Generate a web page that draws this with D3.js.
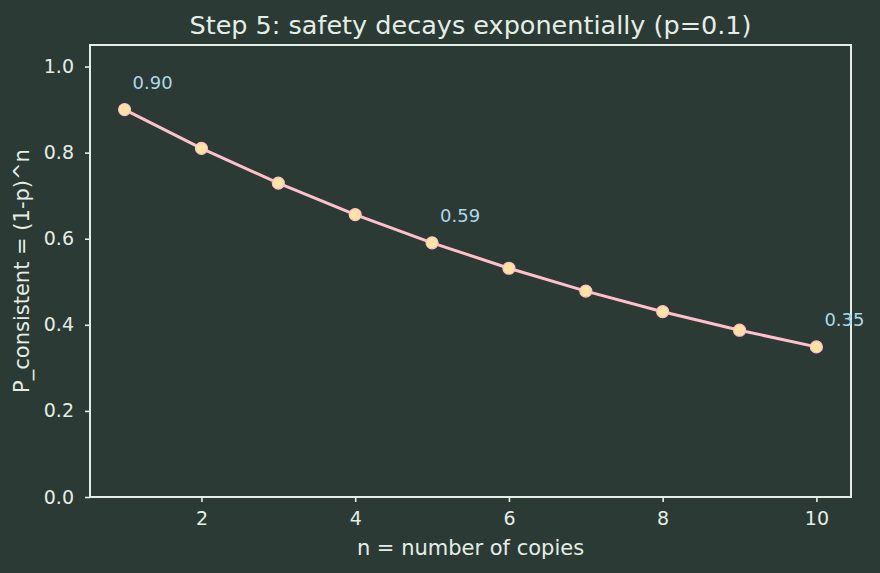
<!DOCTYPE html>
<html>
<head>
<meta charset="utf-8">
<script src="https://cdn.jsdelivr.net/npm/d3@7"></script>
<style>
  body { margin: 0; background: #2b3a34; }
  text { font-family: "DejaVu Sans", sans-serif; }
</style>
</head>
<body>
<script>
var svgWidth = 880;
var svgHeight = 573;

// data
var copies = [1, 2, 3, 4, 5, 6, 7, 8, 9, 10];
var pConsistent = [0.9, 0.81, 0.729, 0.6561, 0.59049, 0.531441, 0.4782969, 0.43046721, 0.387420489, 0.3486784401];
var labelled = [1, 5, 10];
var xTicks = [2, 4, 6, 8, 10];
var yTicks = [0.0, 0.2, 0.4, 0.6, 0.8, 1.0];

var margin = {left: 90, right: 29, top: 45, bottom: 76};
var fg = "#e4eee6";

var svg = d3.select("body").append("svg").attr("width", svgWidth).attr("height", svgHeight);
svg.append("rect").attr("width", svgWidth).attr("height", svgHeight).attr("fill", "#2b3a34");

var x = d3.scaleLinear().domain([0.55, 10.45]).range([margin.left, svgWidth - margin.right]);
var y = d3.scaleLinear().domain([0, 1.05]).range([svgHeight - margin.bottom, margin.top]);

// axes
var xAxis = svg.append("g")
    .attr("transform", "translate(0," + (svgHeight - margin.bottom) + ")")
    .call(d3.axisBottom(x).tickValues(xTicks).tickFormat(d3.format("d")).tickSize(5).tickPadding(10));
var yAxis = svg.append("g")
    .attr("transform", "translate(" + margin.left + ",0)")
    .call(d3.axisLeft(y).tickValues(yTicks).tickFormat(d3.format(".1f")).tickSize(5).tickPadding(11));

[xAxis, yAxis].forEach(function(a) {
    a.select(".domain").remove();
    a.attr("font-size", null).attr("font-family", null);
    a.selectAll("line").attr("stroke", fg).attr("stroke-width", 1.6);
    a.selectAll("text").attr("fill", fg).style("font-size", "19px").style("font-family", "DejaVu Sans");
});

// frame
svg.append("rect")
    .attr("x", margin.left).attr("y", margin.top)
    .attr("width", svgWidth - margin.left - margin.right)
    .attr("height", svgHeight - margin.top - margin.bottom)
    .attr("fill", "none").attr("stroke", fg).attr("stroke-width", 2);

// line
var line = d3.line()
    .x(function(d, i) { return x(copies[i]); })
    .y(function(d) { return y(d); });

svg.append("path")
    .datum(pConsistent)
    .attr("d", line)
    .attr("fill", "none")
    .attr("stroke", "#ffc0cb")
    .attr("stroke-width", 3);

svg.selectAll("circle.pt").data(pConsistent).join("circle")
    .attr("class", "pt")
    .attr("cx", function(d, i) { return x(copies[i]); })
    .attr("cy", function(d) { return y(d); })
    .attr("r", 6)
    .attr("fill", "#ffe3a3")
    .attr("stroke", "#ffc0cb")
    .attr("stroke-width", 1.2);

// annotations
svg.selectAll("text.ann").data(labelled).join("text")
    .attr("class", "ann")
    .attr("x", function(n) { return x(n) + 8; })
    .attr("y", function(n) { return y(pConsistent[n - 1]) - 21; })
    .attr("fill", "#add8e6")
    .style("font-size", "18px")
    .text(function(n) { return pConsistent[n - 1].toFixed(2); });

// labels
svg.append("text")
    .attr("x", (margin.left + svgWidth - margin.right) / 2).attr("y", 34)
    .attr("text-anchor", "middle").attr("fill", fg).style("font-size", "25.5px")
    .text("Step 5: safety decays exponentially (p=0.1)");

svg.append("text")
    .attr("x", (margin.left + svgWidth - margin.right) / 2).attr("y", 555)
    .attr("text-anchor", "middle").attr("fill", fg).style("font-size", "21px")
    .text("n = number of copies");

svg.append("text")
    .attr("transform", "translate(29," + ((margin.top + svgHeight - margin.bottom) / 2) + ") rotate(-90)")
    .attr("text-anchor", "middle").attr("fill", fg).style("font-size", "21px")
    .text("P_consistent = (1-p)^n");
</script>
</body>
</html>
